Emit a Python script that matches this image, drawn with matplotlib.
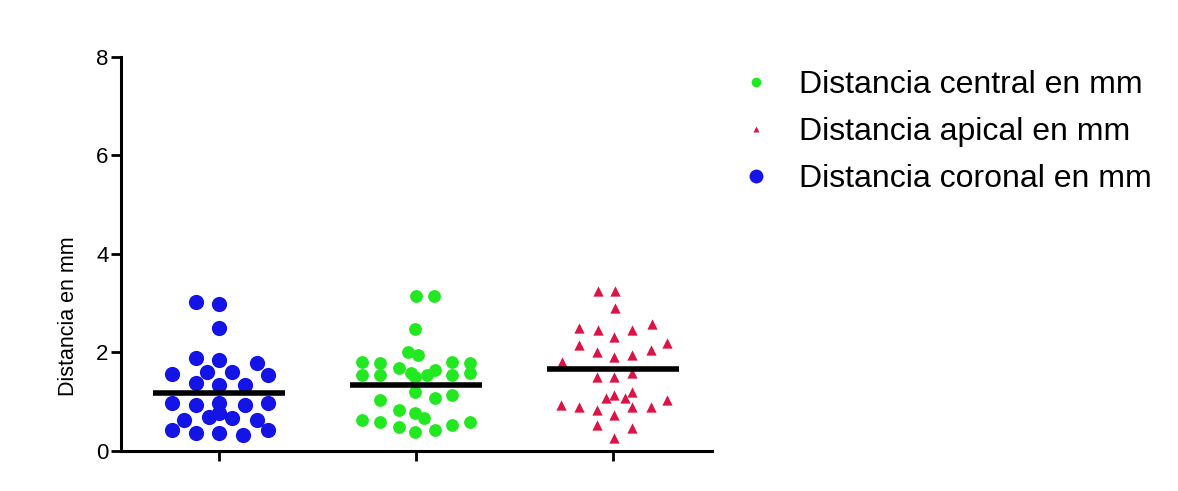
import matplotlib
matplotlib.use("Agg")
import matplotlib.pyplot as plt
from matplotlib.lines import Line2D

plt.rcParams['font.family'] = ['Liberation Sans', 'DejaVu Sans']

# grupos (posiciones 1..3 en el eje x)
grupos = ["Distancia coronal en mm", "Distancia central en mm", "Distancia apical en mm"]

# valores (mm)
coronal = [3.03, 2.98, 2.50,
           1.89, 1.85, 1.79,
           1.56, 1.60, 1.60, 1.54,
           1.38, 1.34, 1.34,
           0.97, 0.93, 0.97, 0.93, 0.97,
           0.63, 0.69, 0.77, 0.67, 0.63,
           0.43, 0.37, 0.37, 0.32, 0.43]
central = [3.15, 3.15, 2.48,
           2.01, 1.95,
           1.81, 1.79, 1.81, 1.79,
           1.69, 1.58, 1.64,
           1.54, 1.54, 1.50, 1.54, 1.54, 1.58,
           1.20,
           1.04, 1.08, 1.14,
           0.83, 0.77, 0.67,
           0.63, 0.59, 0.49, 0.39, 0.43, 0.53, 0.59]
apical = [3.25, 3.25, 2.90,
          2.49, 2.46, 2.46, 2.58,
          2.32,
          2.15, 2.02, 1.91, 1.95, 2.05, 2.19,
          1.81,
          1.51, 1.51, 1.58,
          1.07, 1.14, 1.07, 1.20,
          0.93, 0.90, 0.83, 0.73, 0.90, 0.90, 1.04,
          0.53, 0.46, 0.26]

# desplazamiento horizontal de cada punto (dispersión tipo "dot plot")
jit_coronal = [-0.117, 0, 0,
               -0.117, 0, 0.188,
               -0.239, -0.061, 0.066, 0.244,
               -0.117, 0, 0.127,
               -0.239, -0.117, 0, 0.127, 0.244,
               -0.178, -0.051, 0, 0.066, 0.188,
               -0.239, -0.117, 0, 0.117, 0.244]
jit_central = [0, 0.091, -0.005,
               -0.041, 0.010,
               -0.279, -0.183, 0.178, 0.274,
               -0.091, -0.030, 0.096,
               -0.279, -0.183, -0.005, 0.051, 0.178, 0.274,
               -0.005,
               -0.183, 0.096, 0.178,
               -0.091, -0.005, 0.036,
               -0.279, -0.183, -0.091, -0.005, 0.096, 0.178, 0.274]
jit_apical = [-0.081, 0.010, 0.010,
              -0.173, -0.081, 0.096, 0.193,
              0.005,
              -0.173, -0.086, 0.005, 0.096, 0.188, 0.274,
              -0.259,
              -0.086, 0.005, 0.096,
              -0.036, 0.005, 0.056, 0.096,
              -0.264, -0.173, -0.086, 0.005, 0.096, 0.188, 0.274,
              -0.086, 0.096, 0.005]

# línea horizontal de cada grupo
lineas = [1.18, 1.34, 1.66]

AZUL, VERDE, ROJO = "#1414e6", "#22e822", "#dc1446"

fig = plt.figure(figsize=(11.78, 4.91), dpi=100)
ax = fig.add_axes([0.1027, 0.0815, 0.5017, 0.8024])

ax.scatter([1 + j for j in jit_coronal], coronal, s=120, color=AZUL, zorder=2, linewidths=0)
ax.scatter([2 + j for j in jit_central], central, s=85, color=VERDE, zorder=2, linewidths=0)
ax.scatter([3 + j for j in jit_apical], apical, s=55, marker="^", color=ROJO, zorder=2, linewidths=0)

for i, m in enumerate(lineas):
    ax.plot([i + 1 - 0.335, i + 1 + 0.335], [m, m], color="black", lw=4, solid_capstyle="butt", zorder=3)

ax.set_xlim(0.5, 3.5)
ax.set_ylim(0, 8)
ax.set_yticks([0, 2, 4, 6, 8])
ax.set_xticks([1, 2, 3])
ax.set_xticklabels([])
ax.set_ylabel("Distancia en mm", fontsize=15.5)
ax.yaxis.set_label_coords(-0.071, 0.343)
ax.tick_params(axis="y", labelsize=16, width=2, length=7, direction="out", pad=2)
ax.tick_params(axis="x", width=2, length=7, direction="out")
for s in ("top", "right"):
    ax.spines[s].set_visible(False)
for s in ("left", "bottom"):
    ax.spines[s].set_linewidth(2.2)

handles = [
    Line2D([], [], ls="none", marker="o", ms=7, color=VERDE, mec="none"),
    Line2D([], [], ls="none", marker="^", ms=5, color=ROJO, mec="none"),
    Line2D([], [], ls="none", marker="o", ms=10, color=AZUL, mec="none"),
]
fig.legend(handles, [grupos[1], grupos[2], grupos[0]], loc="upper left",
           bbox_to_anchor=(0.604, 0.916), frameon=False, fontsize=23,
           handletextpad=0.85, labelspacing=0.53, handlelength=1.0)

fig.savefig("out.png", dpi=100, facecolor="white")
